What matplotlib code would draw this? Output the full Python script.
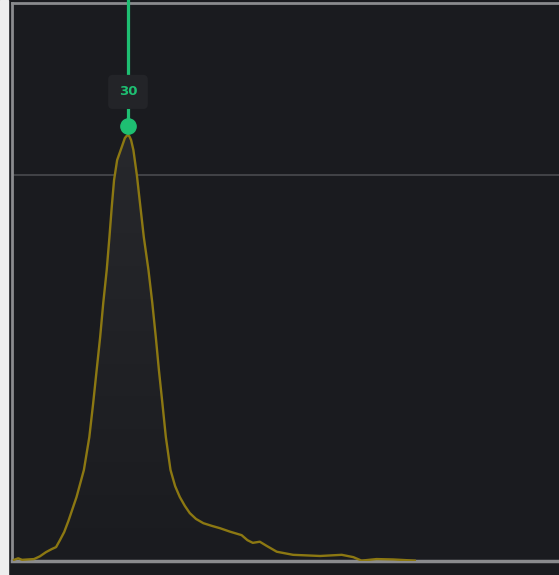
import numpy as np
import matplotlib
matplotlib.use('Agg')
import matplotlib.pyplot as plt
from matplotlib.patches import Rectangle
from matplotlib import transforms

# distribution curve
xs = [0.5, 1.6, 2.6, 4.1, 5.7, 7.2, 8.8, 10.3, 11.4, 12.4, 13.5, 14.6, 16.7, 18.6,
      20.0, 21.0, 21.9, 22.8, 23.6, 24.5, 25.2, 25.8, 26.4, 27.2, 28.4, 29.2, 29.6,
      30.0, 30.4, 30.8, 31.4, 32.3, 33.1, 34.1, 35.3, 36.3, 37.2, 38.0, 38.9, 39.8,
      41.0, 42.2, 43.4, 44.7, 46.0, 47.6, 49.5, 51.7, 53.8, 56.4, 59.4, 60.9, 62.3,
      64.1, 65.9, 68.5, 72.7, 79.7, 85.3, 88.3, 90.4, 94.3, 98.6, 104.2]
ys = [0.3, 0.7, 0.3, 0.4, 0.5, 1.2, 2.3, 3.1, 3.6, 5.4, 7.5, 10.4, 16.6, 23.6,
      32.1, 40.9, 49.5, 58.0, 66.8, 75.4, 83.9, 91.7, 98.7, 103.9, 107.3, 109.6, 110.1,
      110.4, 110.0, 109.1, 106.5, 100.0, 92.8, 83.9, 75.4, 66.8, 58.0, 49.5, 40.9, 32.1,
      23.6, 19.4, 16.6, 14.3, 12.4, 10.9, 9.8, 9.1, 8.5, 7.6, 6.7, 5.4, 4.7,
      5.0, 3.9, 2.4, 1.6, 1.3, 1.6, 1.0, 0.1, 0.5, 0.4, 0.1]
peak_x = 30
peak_label = '30'
grid_y = [100]

BG = '#1a1b1f'
GOLD = '#8c7812'
GREEN = '#1ebf72'
AXIS = '#8a8b8e'

fig = plt.figure(figsize=(5.59, 5.75), dpi=100, facecolor=BG)
ax = fig.add_axes([12 / 559, 14 / 575, 547 / 559, 558 / 575])
ax.set_facecolor(BG)
ax.set_xlim(0, 141.5)
ax.set_ylim(0, 144.6)

# white strip at the left edge
fig.patches.append(Rectangle((0, 0), 8 / 559, 1, transform=fig.transFigure,
                             color='#eeeeee', zorder=0))

ax.spines['right'].set_visible(False)
for s in ['left', 'bottom', 'top']:
  ax.spines[s].set_color(AXIS)
ax.spines['left'].set_linewidth(2)
ax.spines['top'].set_linewidth(2)
ax.spines['bottom'].set_linewidth(2.5)
ax.set_xticks([])
ax.set_yticks([])

for g in grid_y:
  ax.axhline(g, color='#4a4b4f', lw=1.2, zorder=1)

# gradient fill under the curve
grad = np.linspace(0, 1, 256).reshape(-1, 1)
cmap = matplotlib.colors.LinearSegmentedColormap.from_list('g', [BG, '#27282c'])
im = ax.imshow(grad, extent=[0, 141.5, 0, max(ys)], origin='lower', aspect='auto',
               cmap=cmap, zorder=2)
poly = ax.fill_between(xs, ys, 0, color='none')
im.set_clip_path(poly.get_paths()[0], transform=ax.transData)

ax.plot(xs, ys, color=GOLD, lw=1.7, zorder=3, solid_joinstyle='round')

# peak marker and guide line
off = transforms.offset_copy(ax.transData, fig=fig, x=0, y=9, units='dots')
peak_y = max(ys)
ax.plot([peak_x, peak_x], [peak_y, 144.6], color=GREEN, lw=2.3, zorder=4,
        transform=off, clip_on=False)
ax.plot([peak_x], [peak_y], 'o', color=GREEN, ms=11, zorder=5, transform=off)
ax.annotate(peak_label, (peak_x, peak_y), xytext=(0, 31), textcoords='offset points',
            ha='center', va='center', color=GREEN, fontsize=9.5, fontweight='bold',
            zorder=6,
            bbox=dict(boxstyle='round,pad=0.8,rounding_size=0.35', fc='#232428',
                      ec='none'))

fig.savefig('out.png', dpi=100, facecolor=BG)
